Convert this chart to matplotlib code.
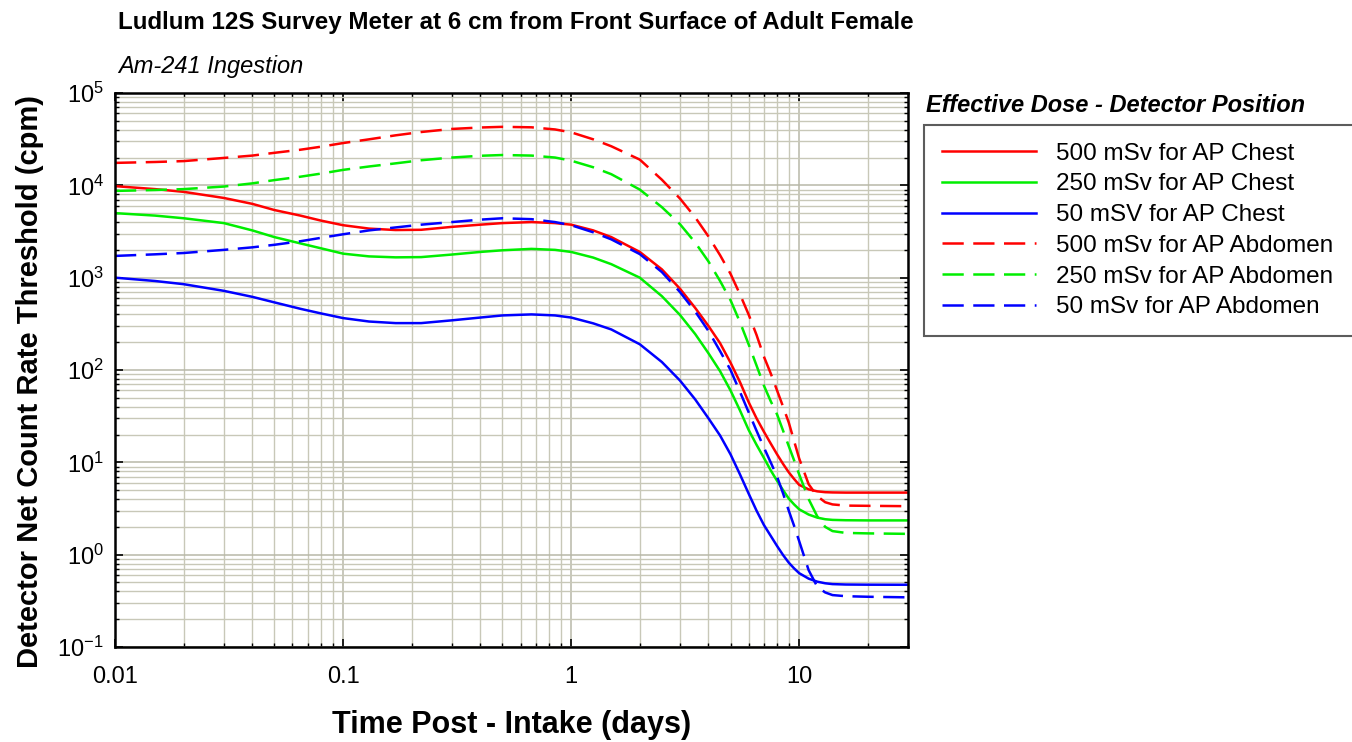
import numpy as np
import matplotlib
matplotlib.use("Agg")
import matplotlib.pyplot as plt
from matplotlib.ticker import LogLocator, NullFormatter, FixedLocator, FixedFormatter

plt.rcParams['font.family'] = ['Liberation Sans', 'DejaVu Sans']
plt.rcParams['mathtext.default'] = 'regular'

# time post intake (days)
days = [0.01, 0.015, 0.02, 0.03, 0.04, 0.05, 0.065, 0.08, 0.1, 0.13, 0.17, 0.22, 0.3, 0.4,
        0.5, 0.67, 0.85, 1.0, 1.25, 1.5, 2, 2.5, 3, 3.5, 4, 4.5, 5, 5.5, 6, 6.5, 7, 7.5,
        8, 8.5, 9, 9.5, 10, 11, 12, 13, 14, 16, 20, 30]

# count rate thresholds (cpm)
chest_500 = [9800, 9100, 8500, 7300, 6300, 5400, 4700, 4150, 3700, 3400, 3280, 3300, 3550, 3750,
             3900, 4000, 3900, 3750, 3250, 2750, 1900, 1230, 760, 470, 300, 195, 120, 74, 45, 30, 21.5, 16,
             12.2, 9.6, 7.8, 6.6, 5.7, 5.1, 4.85, 4.75, 4.72, 4.7, 4.7, 4.7]
chest_250 = [5000, 4700, 4400, 3900, 3250, 2750, 2350, 2080, 1820, 1700, 1660, 1670, 1780, 1900,
             1980, 2050, 2000, 1900, 1650, 1400, 1000, 630, 395, 245, 152, 97, 60, 36.5, 22.5, 15.5, 11.2, 8.2,
             6.3, 5.0, 4.05, 3.5, 3.1, 2.72, 2.52, 2.42, 2.38, 2.36, 2.35, 2.35]
chest_50 = [1000, 920, 850, 720, 620, 540, 460, 410, 365, 335, 322, 322, 345, 370,
            390, 400, 390, 370, 320, 275, 190, 122, 77, 48, 30, 19.5, 12.2, 7.4, 4.6, 3.0, 2.1, 1.6,
            1.24, 0.99, 0.82, 0.71, 0.63, 0.55, 0.51, 0.49, 0.48, 0.475, 0.473, 0.472]
abd_500 = [17500, 17900, 18300, 19800, 21000, 22500, 24300, 26200, 28700, 31500, 34800, 37800, 40800, 42300,
           43000, 42500, 40300, 37500, 31500, 26500, 19000, 11500, 7200, 4500, 2800, 1750, 1100, 660, 400, 240, 140, 92,
           60, 40, 27, 17, 11, 5.8, 4.3, 3.7, 3.5, 3.4, 3.38, 3.35]
abd_250 = [8700, 8900, 9100, 9700, 10500, 11400, 12400, 13400, 14700, 16000, 17300, 18700, 20000, 20900,
           21300, 21000, 20000, 18500, 15700, 13200, 9000, 5800, 3800, 2400, 1500, 920, 570, 330, 190, 112, 68, 46,
           33, 22, 15, 10.5, 7.4, 4.0, 2.6, 2.0, 1.8, 1.72, 1.7, 1.68]
abd_50 = [1720, 1790, 1850, 2000, 2130, 2270, 2480, 2700, 2950, 3250, 3500, 3750, 4000, 4250,
          4400, 4300, 4000, 3700, 3100, 2600, 1800, 1150, 700, 430, 265, 160, 100, 58, 35, 22, 14.5, 10,
          7.0, 4.6, 3.0, 2.05, 1.4, 0.68, 0.45, 0.39, 0.365, 0.355, 0.35, 0.345]

labels = ["500 mSv for AP Chest", "250 mSv for AP Chest", "50 mSV for AP Chest",
          "500 mSv for AP Abdomen", "250 mSv for AP Abdomen", "50 mSv for AP Abdomen"]

fig = plt.figure(figsize=(13.52, 7.42), dpi=100)
ax = fig.add_axes([115/1352, 1-647/742, (908-115)/1352, (647-93)/742])

series = [chest_500, chest_250, chest_50, abd_500, abd_250, abd_50]
colors = ['#ff0000', '#00ee00', '#0000ff', '#ff0000', '#00ee00', '#0000ff']
handles = []
for i, (vals, c, lab) in enumerate(zip(series, colors, labels)):
    if i < 3:
        h, = ax.plot(days, vals, color=c, lw=1.8, label=lab)
    else:
        h, = ax.plot(days, vals, color=c, lw=1.8, dashes=(8.5, 3.8), label=lab)
    handles.append(h)

ax.set_xscale('log')
ax.set_yscale('log')
ax.set_xlim(0.01, 30)
ax.set_ylim(0.1, 1e5)

ax.xaxis.set_major_locator(FixedLocator([0.01, 0.1, 1, 10]))
ax.xaxis.set_major_formatter(FixedFormatter(['0.01', '0.1', '1', '10']))
ax.xaxis.set_minor_locator(LogLocator(base=10, subs=np.arange(2, 10), numticks=20))
ax.xaxis.set_minor_formatter(NullFormatter())
ax.yaxis.set_major_locator(LogLocator(base=10, numticks=10))
ax.yaxis.set_minor_locator(LogLocator(base=10, subs=np.arange(2, 10), numticks=20))
ax.yaxis.set_minor_formatter(NullFormatter())

ax.grid(True, which='major', color='#b8b8a8', lw=1.1)
ax.grid(True, which='minor', color='#c8c8b8', lw=1.0)
ax.set_axisbelow(True)
ax.tick_params(which='both', direction='in', top=True, right=True, labelsize=17)
ax.tick_params(axis='x', which='major', pad=14)
ax.tick_params(axis='y', which='major', pad=8)
ax.tick_params(which='major', length=6, width=1.2)
ax.tick_params(which='minor', length=3, width=1.0)
for s in ax.spines.values():
    s.set_linewidth(1.8)

ax.set_xlabel('Time Post - Intake (days)', fontsize=22, fontweight='bold')
ax.xaxis.set_label_coords(0.5, -0.113)
ax.set_ylabel('Detector Net Count Rate Threshold (cpm)', fontsize=21, fontweight='bold')
ax.yaxis.set_label_coords(-0.09, 0.479)

fig.text(118/1352, 1-22/742, 'Ludlum 12S Survey Meter at 6 cm from Front Surface of Adult Female',
         fontsize=17.4, fontweight='bold', va='center', ha='left')
fig.text(118/1352, 1-66/742, 'Am-241 Ingestion', fontsize=17, style='italic',
         va='center', ha='left')

fig.text(926/1352, 1-105/742, 'Effective Dose - Detector Position', fontsize=17,
         fontweight='bold', style='italic', va='center', ha='left')
leg = fig.legend(handles=handles, labels=labels, loc='upper left',
                 bbox_to_anchor=(924/1352, 1-336/742, 432/1352, 211/742), mode='expand',
                 fancybox=False, frameon=True, handlelength=3.9, handletextpad=0.8,
                 labelspacing=0.36, borderaxespad=0, borderpad=0.72,
                 prop={'size': 17.5})
leg.get_frame().set_edgecolor('#333333')
leg.get_frame().set_linewidth(1.5)

fig.savefig('out.png', dpi=100)
